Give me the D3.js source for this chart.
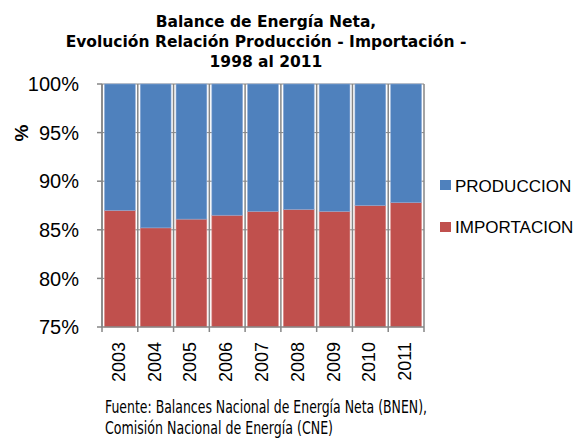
<!DOCTYPE html>
<html>
<head>
<meta charset="utf-8">
<script src="https://cdn.jsdelivr.net/npm/d3@7"></script>
<style>
  body { margin: 0; background: #fff; }
  svg { display: block; }
</style>
</head>
<body>
<svg id="chart_svg" width="583" height="438"></svg>
<script>
var years = ["2003", "2004", "2005", "2006", "2007", "2008", "2009", "2010", "2011"]
var importacion = [87.0, 85.2, 86.1, 86.5, 86.9, 87.1, 86.9, 87.5, 87.8]
var produccion = [13.0, 14.8, 13.9, 13.5, 13.1, 12.9, 13.1, 12.5, 12.2]
var yTicks = [75, 80, 85, 90, 95, 100]
var seriesNames = ["PRODUCCION", "IMPORTACION"]
var seriesColors = ["#4F81BD", "#C0504D"]

var svg = d3.select("#chart_svg")
var plotLeft = 102, plotRight = 424, plotTop = 84, plotBottom = 327
var grey = "#868686"

var x = d3.scaleBand().domain(years).range([plotLeft, plotRight]).paddingInner(0.14).paddingOuter(0.07)
var y = d3.scaleLinear().domain([75, 100]).range([plotBottom, plotTop])

// title
var title = ["Balance de Energía Neta,", "Evolución Relación Producción - Importación -", "1998 al 2011"]
svg.selectAll(".title")
  .data(title)
  .join("text")
  .attr("class", "title")
  .attr("x", 266)
  .attr("y", (d, i) => 27 + i * 20)
  .attr("text-anchor", "middle")
  .style("font-family", "DejaVu Sans")
  .style("font-weight", "bold")
  .style("font-size", "15.5px")
  .text(d => d)

// gridlines
svg.selectAll(".hgrid")
  .data(yTicks.slice(1))
  .join("line")
  .attr("x1", plotLeft).attr("x2", plotRight)
  .attr("y1", d => y(d)).attr("y2", d => y(d))
  .attr("stroke", grey).attr("stroke-width", 1)

var bounds = d3.range(years.length + 1).map(i => plotLeft + i * (plotRight - plotLeft) / years.length)
svg.selectAll(".vgrid")
  .data(bounds)
  .join("line")
  .attr("x1", d => d).attr("x2", d => d)
  .attr("y1", plotTop).attr("y2", plotBottom + 5)
  .attr("stroke", grey).attr("stroke-width", 1.5)

// bars
var stacked = years.map((yr, i) => ({year: yr, imp: importacion[i], prod: produccion[i]}))
svg.selectAll(".imp")
  .data(stacked)
  .join("rect")
  .attr("x", d => x(d.year))
  .attr("width", x.bandwidth())
  .attr("y", d => y(d.imp))
  .attr("height", d => y(75) - y(d.imp))
  .attr("fill", seriesColors[1])
  .attr("stroke", "#d98a88").attr("stroke-width", 0.6)

svg.selectAll(".prod")
  .data(stacked)
  .join("rect")
  .attr("x", d => x(d.year))
  .attr("width", x.bandwidth())
  .attr("y", d => y(d.imp + d.prod))
  .attr("height", d => y(d.imp) - y(d.imp + d.prod))
  .attr("fill", seriesColors[0])
  .attr("stroke", "#8aaad6").attr("stroke-width", 0.6)

// axes
svg.append("line")
  .attr("x1", plotLeft).attr("x2", plotLeft).attr("y1", plotTop).attr("y2", plotBottom)
  .attr("stroke", grey).attr("stroke-width", 1.5)
svg.append("line")
  .attr("x1", plotLeft).attr("x2", plotRight).attr("y1", plotBottom).attr("y2", plotBottom)
  .attr("stroke", grey).attr("stroke-width", 1.5)

svg.selectAll(".ytick")
  .data(yTicks)
  .join("line")
  .attr("x1", plotLeft - 5).attr("x2", plotLeft)
  .attr("y1", d => y(d)).attr("y2", d => y(d))
  .attr("stroke", grey).attr("stroke-width", 1.5)

svg.selectAll(".ylabel")
  .data(yTicks)
  .join("text")
  .attr("x", 79)
  .attr("y", d => y(d))
  .attr("dy", "0.36em")
  .attr("text-anchor", "end")
  .style("font-family", "Liberation Sans")
  .style("font-size", "20px")
  .text(d => d + "%")

svg.append("text")
  .attr("transform", "translate(28,133) rotate(-90)")
  .attr("text-anchor", "middle")
  .style("font-family", "Liberation Sans")
  .style("font-weight", "bold")
  .style("font-size", "19px")
  .text("%")

svg.selectAll(".xlabel")
  .data(years)
  .join("text")
  .attr("transform", d => "translate(" + (x(d) + x.bandwidth() / 2 + 5) + ",342) rotate(-90)")
  .attr("text-anchor", "end")
  .style("font-family", "Liberation Sans")
  .style("font-size", "18px")
  .text(d => d)

// legend
svg.selectAll(".legsq")
  .data(seriesNames)
  .join("rect")
  .attr("x", 440)
  .attr("y", (d, i) => 180 + i * 42)
  .attr("width", 11).attr("height", 10)
  .attr("fill", (d, i) => seriesColors[i])

svg.selectAll(".legtxt")
  .data(seriesNames)
  .join("text")
  .attr("x", 455)
  .attr("y", (d, i) => 192 + i * 41)
  .style("font-family", "Liberation Sans")
  .style("font-size", "17px")
  .text(d => d)

// source note
var fuente = ["Fuente: Balances Nacional de Energía Neta (BNEN),", "Comisión Nacional de Energía (CNE)"]
var fuenteWidth = [322, 228]
svg.selectAll(".fuente")
  .data(fuente)
  .join("text")
  .attr("x", 105)
  .attr("y", (d, i) => 413 + i * 21)
  .attr("textLength", (d, i) => fuenteWidth[i])
  .attr("lengthAdjust", "spacingAndGlyphs")
  .style("font-family", "DejaVu Sans Condensed")
  .style("font-size", "18px")
  .text(d => d)
</script>
</body>
</html>
